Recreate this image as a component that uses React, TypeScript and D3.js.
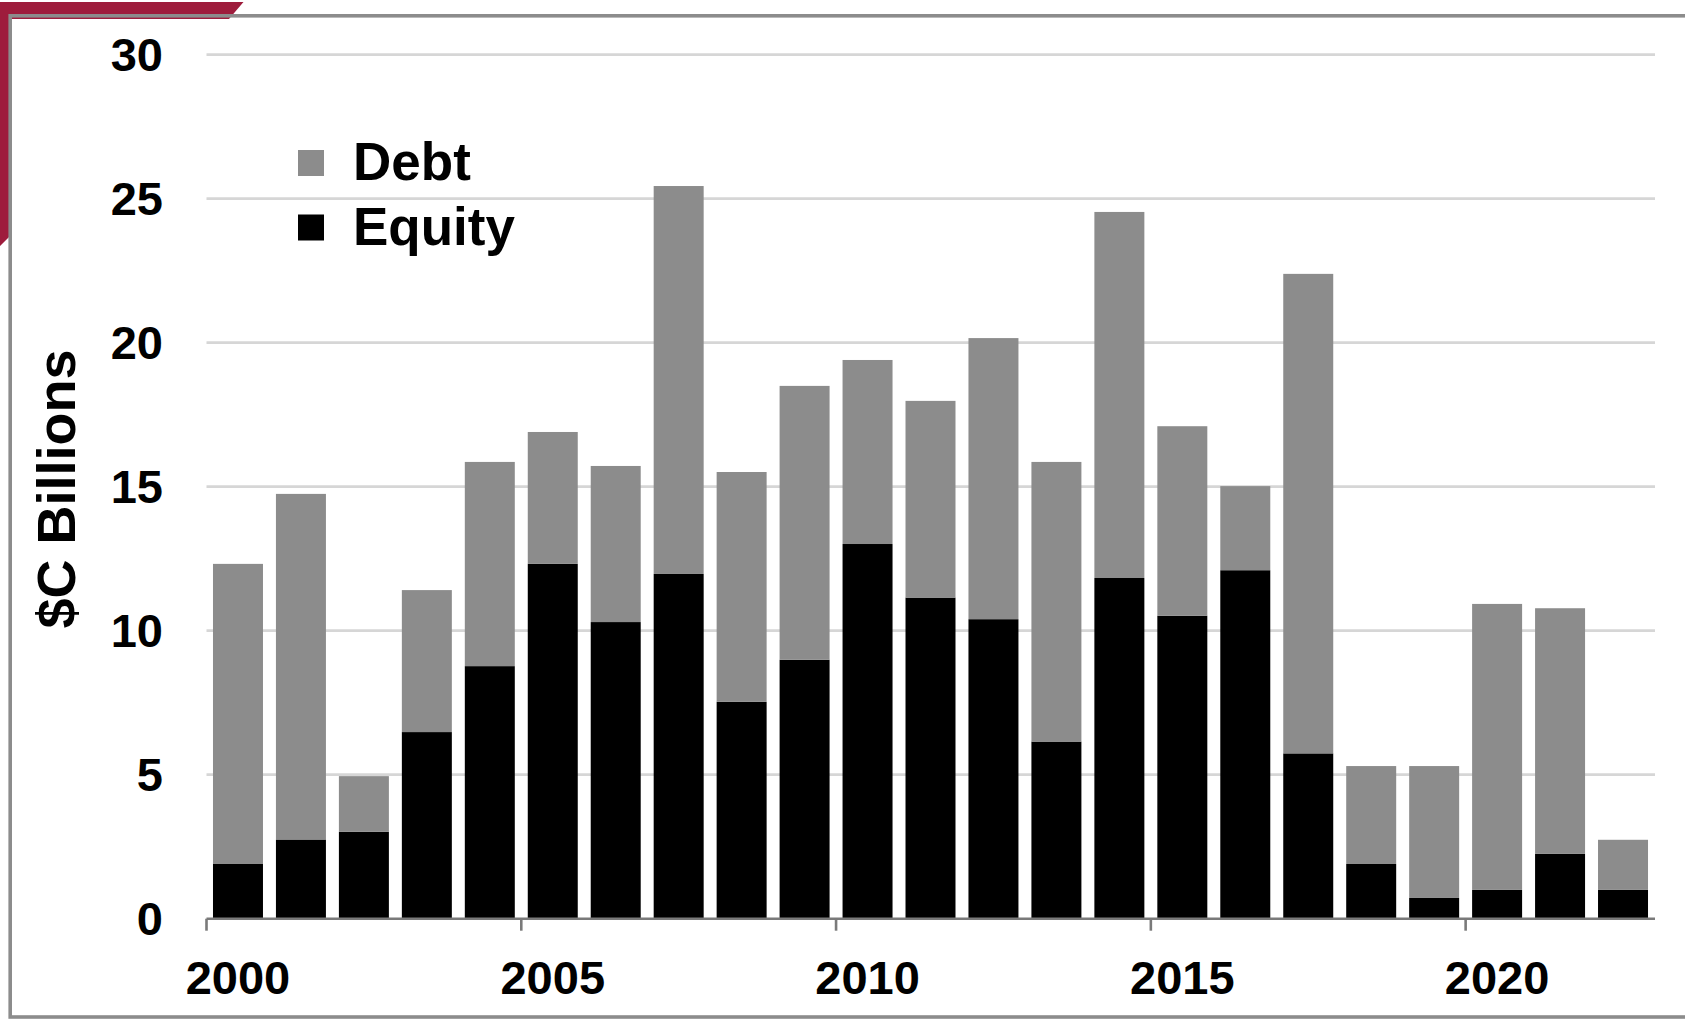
import React from "react";
import * as d3 from "d3";

// Annual financing, $C billions
const years: string[] = [
  "2000", "2001", "2002", "2003", "2004", "2005", "2006", "2007", "2008", "2009", "2010", "2011",
  "2012", "2013", "2014", "2015", "2016", "2017", "2018", "2019", "2020", "2021", "2022",
];
const equity: number[] = [
  1.9, 2.75, 3.02, 6.48, 8.77, 12.32, 10.3, 11.97, 7.53, 8.99, 13.01, 11.15,
  10.4, 6.15, 11.83, 10.52, 12.1, 5.74, 1.9, 0.72, 1.0, 2.25, 1.0,
];
const debt: number[] = [
  10.42, 12.0, 1.93, 4.93, 7.09, 4.58, 5.42, 13.47, 7.98, 9.51, 6.39, 6.83,
  9.76, 9.71, 12.71, 6.58, 2.92, 16.65, 3.4, 4.58, 9.93, 8.53, 1.74,
];
const yTicks: number[] = [0, 5, 10, 15, 20, 25, 30];
const xTickLabels: string[] = ["2000", "2005", "2010", "2015", "2020"];
const seriesNames: string[] = ["Debt", "Equity"];

const W = 1685;
const H = 1019;
const FONT = "'Liberation Sans', Arial, Helvetica, sans-serif";
const DEBT_COLOR = "#8c8c8c";
const EQUITY_COLOR = "#000000";

export default function App() {
  const x = d3
    .scaleBand<string>()
    .domain(years)
    .range([206.5, 1654.5])
    .paddingInner(0.206)
    .paddingOuter(0.103);
  const y = d3.scaleLinear().domain([0, 30]).range([918.7, 54.7]);

  const rows = years.map((yr, i) => ({ year: yr, equity: equity[i], debt: debt[i] }));
  const stacked = d3.stack<any>().keys(["equity", "debt"])(rows);
  const colors: Record<string, string> = { equity: EQUITY_COLOR, debt: DEBT_COLOR };

  const step = x.step();
  const halfGap = (step * x.paddingInner()) / 2;
  const [x0, x1] = x.range();

  return (
    <svg
      width={W}
      height={H}
      style={{ position: "absolute", left: 0, top: 0, background: "#ffffff" }}
      fontFamily={FONT}
    >
      <rect x={0} y={0} width={W} height={H} fill="#ffffff" />
      {/* maroon corner accent behind the frame */}
      <polygon points="0,2 243.5,2 229,19 10,19 10,236 0,246" fill="#9e1c3c" />
      {/* frame */}
      <rect x={10.2} y={15.8} width={1700} height={1001.2} fill="none" stroke="#8c8c8c" strokeWidth={3.6} />

      {/* gridlines */}
      {yTicks
        .filter((t) => t > 0)
        .map((t) => (
          <line key={`g${t}`} x1={x0} x2={x1 + 0.5} y1={y(t)} y2={y(t)} stroke="#d6d6d6" strokeWidth={2.8} />
        ))}

      {/* stacked bars */}
      {stacked.map((layer) =>
        layer.map((d, i) => (
          <rect
            key={`${layer.key}-${years[i]}`}
            x={x(years[i])}
            y={y(d[1])}
            width={x.bandwidth()}
            height={y(d[0]) - y(d[1])}
            fill={colors[layer.key as string]}
          />
        ))
      )}

      {/* x axis */}
      <line x1={x0} x2={x1 + 0.5} y1={y(0)} y2={y(0)} stroke="#7a7a7a" strokeWidth={2.6} />
      {xTickLabels.map((lab) => {
        const bx = (x(lab) as number) - halfGap;
        return (
          <line key={`t${lab}`} x1={bx} x2={bx} y1={y(0)} y2={y(0) + 12} stroke="#7a7a7a" strokeWidth={2.6} />
        );
      })}
      {xTickLabels.map((lab) => (
        <text
          key={`xl${lab}`}
          x={(x(lab) as number) + x.bandwidth() / 2}
          y={994}
          textAnchor="middle"
          fontSize={47}
          fontWeight="bold"
          fill="#000"
        >
          {lab}
        </text>
      ))}

      {/* y axis labels */}
      {yTicks.map((t) => (
        <text
          key={`yl${t}`}
          x={163}
          y={y(t)}
          dy="0.355em"
          textAnchor="end"
          fontSize={47}
          fontWeight="bold"
          fill="#000"
        >
          {t}
        </text>
      ))}
      <text
        transform={`translate(75, 489) rotate(-90)`}
        textAnchor="middle"
        fontSize={54}
        fontWeight="bold"
        fill="#000"
      >
        $C Billions
      </text>

      {/* legend */}
      {seriesNames.map((name, i) => (
        <g key={name} transform={`translate(298, ${150 + i * 64.5})`}>
          <rect x={0} y={0} width={26} height={26} fill={name === "Debt" ? DEBT_COLOR : EQUITY_COLOR} />
          <text x={55} y={30} fontSize={53} fontWeight="bold" fill="#000">
            {name}
          </text>
        </g>
      ))}
    </svg>
  );
}
